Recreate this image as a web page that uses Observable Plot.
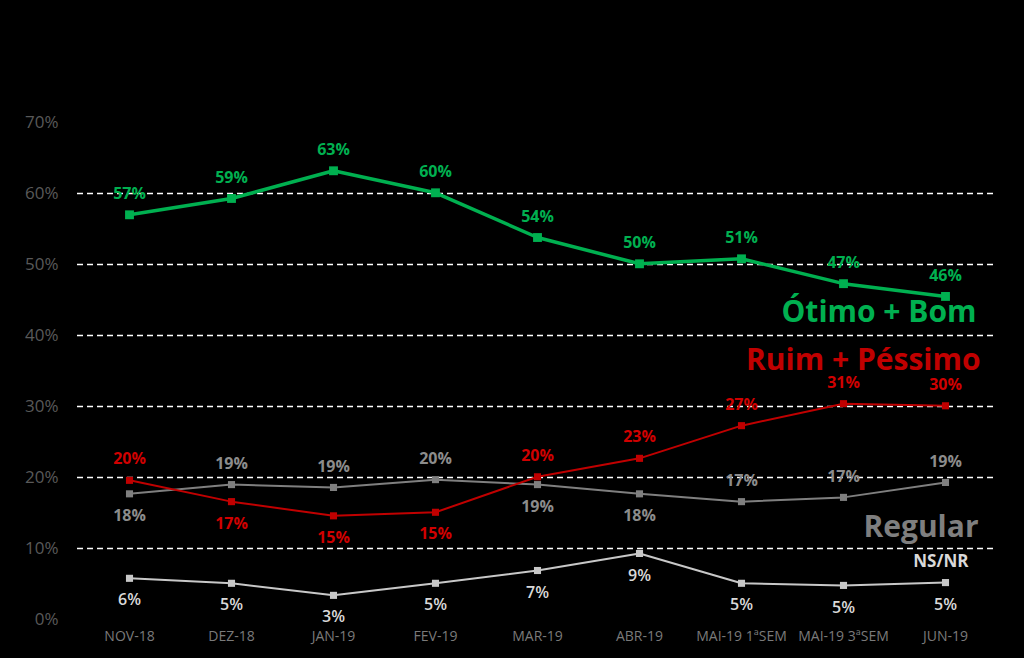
<!DOCTYPE html>
<html><head><meta charset="utf-8">
<script src="https://cdn.jsdelivr.net/npm/d3@7"></script>
<script src="https://cdn.jsdelivr.net/npm/@observablehq/plot@0.6"></script>
<style>
html,body{margin:0;padding:0;background:#000;}
#chart{width:1024px;height:658px;overflow:hidden;}
</style></head><body><div id="chart"></div>
<script>
// ---- data ----
const months = ["NOV-18","DEZ-18","JAN-19","FEV-19","MAR-19","ABR-19","MAI-19 1ªSEM","MAI-19 3ªSEM","JUN-19"];
const otimoBom = [57.0,59.3,63.2,60.1,53.8,50.1,50.8,47.3,45.5];
const otimoBomLabels = ["57%","59%","63%","60%","54%","50%","51%","47%","46%"];
const ruimPessimo = [19.6,16.6,14.6,15.1,20.1,22.7,27.3,30.4,30.1];
const ruimPessimoLabels = ["20%","17%","15%","15%","20%","23%","27%","31%","30%"];
const regular = [17.7,19.0,18.6,19.7,19.0,17.7,16.6,17.2,19.3];
const regularLabels = ["18%","19%","19%","20%","19%","18%","17%","17%","19%"];
const nsnr = [5.8,5.1,3.4,5.1,6.9,9.3,5.1,4.8,5.2];
const nsnrLabels = ["6%","5%","3%","5%","7%","9%","5%","5%","5%"];
const seriesNames = ["Ótimo + Bom","Ruim + Péssimo","Regular","NS/NR"];
const yTicks = [0,10,20,30,40,50,60,70];
const gridLines = [10,20,30,40,50,60];

// ---- styling / placement ----
const FONT = "'Open Sans', 'Noto Sans', sans-serif";
const specs = [
  {name: seriesNames[3], values: nsnr, labels: nsnrLabels, line: "#c8c8c8", text: "#d9d9d9", sw: 2, r: 4, weight: 600,
   below: [0,1,2,3,4,5,6,7,8], nameSize: 17, nameDx: 23, nameDy: -21, nameFill: "#d9d9d9"},
  {name: seriesNames[2], values: regular, labels: regularLabels, line: "#7f7f7f", text: "#8c8c8c", sw: 2, r: 4, weight: "bold",
   below: [0,4,5], nameSize: 30, nameDx: 33, nameDy: 45, nameFill: "#7f7f7f"},
  {name: seriesNames[1], values: ruimPessimo, labels: ruimPessimoLabels, line: "#c00000", text: "#d00000", sw: 2, r: 4, weight: "bold",
   below: [1,2,3], nameSize: 30, nameDx: 35, nameDy: -45, nameFill: "#c00000"},
  {name: seriesNames[0], values: otimoBom, labels: otimoBomLabels, line: "#00b050", text: "#00b050", sw: 3.5, r: 5, weight: "bold",
   below: [], nameSize: 30, nameDx: 31, nameDy: 16, nameFill: "#00b050"}
];

const marks = [
  Plot.ruleY(gridLines, {stroke: "#ffffff", strokeWidth: 1.3, strokeDasharray: "6,4"}),
  Plot.axisY(yTicks, {tickSize: 0, tickPadding: 19, tickFormat: d => d + "%", fontSize: 17, color: "#595959", fontFamily: FONT}),
  Plot.axisX({tickSize: 0, tickPadding: 12, fontSize: 14, color: "#7a7a7a", fontFamily: FONT})
];

for (const s of specs) {
  const rows = months.map((m, i) => ({month: m, value: s.values[i], label: s.labels[i], below: s.below.includes(i)}));
  marks.push(
    Plot.line(rows, {x: "month", y: "value", stroke: s.line, strokeWidth: s.sw}),
    Plot.dot(rows, {x: "month", y: "value", symbol: "square", r: s.r, fill: s.line, stroke: "none"}),
    Plot.text(rows.filter(d => !d.below), {x: "month", y: "value", text: "label", dy: -21, fill: s.text, fontSize: 16, fontWeight: s.weight, fontFamily: FONT}),
    Plot.text(rows.filter(d => d.below), {x: "month", y: "value", text: "label", dy: 22, fill: s.text, fontSize: 16, fontWeight: s.weight, fontFamily: FONT}),
    Plot.text(rows.slice(-1), {x: "month", y: "value", text: () => s.name, dx: s.nameDx, dy: s.nameDy, textAnchor: "end",
      fill: s.nameFill, fontSize: s.nameSize, fontWeight: "bold", fontFamily: FONT})
  );
}

const chart = Plot.plot({
  width: 1024,
  height: 658,
  marginLeft: 77,
  marginRight: 27,
  marginTop: 122,
  marginBottom: 39,
  style: {background: "#000000", fontFamily: FONT, overflow: "visible"},
  x: {type: "point", domain: months, padding: 0.5, label: null, axis: null},
  y: {domain: [0, 70], label: null, axis: null},
  marks
});
document.getElementById("chart").appendChild(chart);
</script>
</body></html>
